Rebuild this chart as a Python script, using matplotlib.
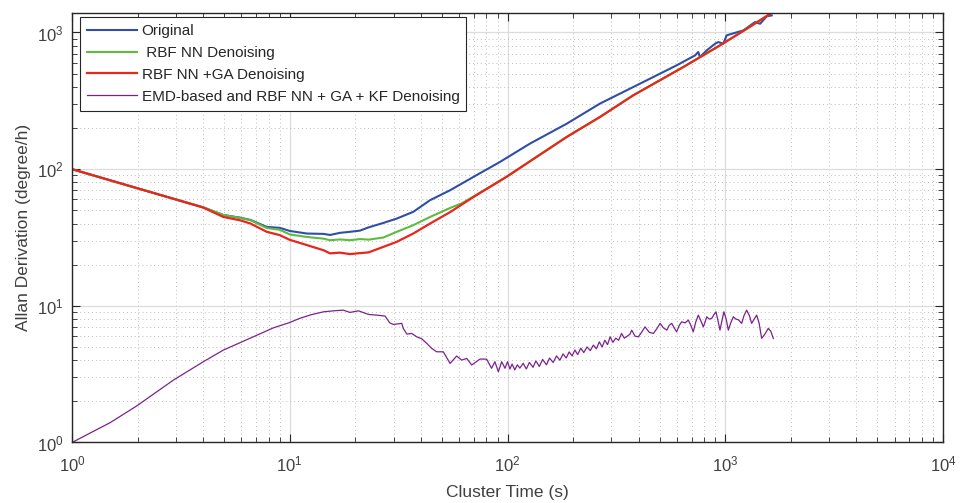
import numpy as np
import matplotlib.pyplot as plt

plt.rcParams['font.family'] = ['Liberation Sans', 'DejaVu Sans']

# Allan deviation curves (cluster time in s, deviation in degree/h)
orig_t = [1, 2, 3, 4.0, 4.95, 5.9, 6.6, 7.84, 9.0, 10, 12, 14.3, 15.3, 17, 18.9, 21, 23,
          26.9, 31, 36.9, 44.1, 54.5, 69.7, 92.4, 126.8, 187, 266, 378, 502, 598, 727,
          752, 765, 822, 900, 930, 980, 1015, 1211, 1370, 1445, 1550, 1634]
orig_y = [100, 72.4, 60, 52.6, 46.2, 44.2, 42.5, 37.8, 37.2, 35.3, 33.8, 33.6, 33.0, 34.2,
          34.8, 35.5, 37.5, 40.4, 43.5, 48.7, 59.3, 70.1, 87.7, 113, 153.8, 215, 302, 399,
          500, 575, 680, 720, 661, 740, 830, 851, 828, 953, 1036, 1192, 1159, 1312, 1334]

rbf_t = [1, 2, 3, 4.0, 4.95, 5.9, 6.6, 7.84, 9.0, 10, 12, 14.3, 15.3, 17, 18.9, 21, 23,
         26.9, 31, 36.9, 44.1, 54.5, 62, 69.7, 99.1, 187, 266, 378, 641, 946, 1250, 1700]
rbf_y = [100, 72.4, 60, 52.6, 46.2, 44.0, 42.3, 37.1, 36.0, 33.3, 31.9, 31.0, 30.2, 30.6,
         30.2, 30.8, 30.5, 31.6, 34.8, 38.9, 44.7, 52.0, 56.5, 63.0, 88, 172, 241, 347,
         558, 805, 1060, 1450]

ga_t = [1, 2, 3, 4.0, 4.95, 5.9, 6.6, 7.84, 9.0, 10, 12, 14.3, 15.3, 17, 18.9, 21, 23,
        26.9, 31, 36.9, 44.1, 54.5, 69.7, 99.1, 187, 266, 378, 641, 946, 1250, 1700]
ga_y = [100, 72.4, 60, 52.4, 44.7, 42.3, 40.0, 34.8, 32.9, 30.4, 27.8, 25.5, 24.2, 24.5,
        23.9, 24.3, 24.6, 27.0, 29.4, 33.8, 40.0, 48.5, 62.5, 88, 172, 241, 347, 558,
        805, 1060, 1450]

emd_t = [1, 1.5, 1.98, 2.92, 4.01, 4.95, 6.8, 8.41, 10, 11.1, 12.5, 14.3, 16, 17.6, 18.9,
         20.7, 23.0, 25.1, 27.4, 28.8, 29.9, 32.7, 33.2, 34.5, 36.3, 38.3, 40.3, 42.6, 44.9,
         47.3, 50.7, 54.5, 58.4, 61.6, 65, 68.5, 74.8, 80.2, 84.5, 87.5, 90.8, 94.0, 97.4,
         100, 102.6, 105, 108, 111, 114, 118, 122, 126, 131, 135, 140, 145, 151, 156, 162,
         168, 174, 180, 186, 192, 198, 204, 210, 217, 224, 232, 240, 248, 256, 264, 272,
         280, 288, 296, 305, 314, 324, 334, 344, 355, 365, 372, 385, 399, 413, 428, 448,
         468, 485, 502, 520, 539, 553, 568, 583, 598, 615, 631, 654, 677, 695, 713, 732,
         752, 772, 793, 808, 822, 845, 867, 887, 907, 926, 946, 966, 986, 1010, 1033, 1060,
         1089, 1120, 1150, 1190, 1220, 1254, 1290, 1322, 1360, 1394, 1430, 1470, 1520,
         1577, 1620, 1663]
emd_y = [1.0, 1.4, 1.85, 2.86, 3.90, 4.74, 5.93, 6.90, 7.55, 8.09, 8.6, 9.04, 9.2, 9.30,
         8.95, 9.19, 8.65, 8.55, 8.41, 7.5, 7.31, 7.44, 6.84, 6.21, 6.28, 5.93, 5.75, 5.31,
         4.88, 4.61, 4.61, 3.79, 4.29, 4.01, 4.12, 3.69, 4.08, 4.07, 3.49, 3.90, 3.29, 3.90,
         3.49, 3.9, 3.45, 3.75, 3.4, 3.7, 3.5, 3.8, 3.45, 3.85, 3.55, 3.95, 3.6, 4.05, 3.7,
         4.15, 3.85, 4.3, 4.0, 4.45, 4.15, 4.6, 4.3, 4.75, 4.4, 4.9, 4.55, 5.0, 4.7, 5.16,
         4.85, 5.45, 5.0, 5.6, 5.2, 5.93, 5.4, 5.8, 5.6, 6.28, 5.8, 6.0, 6.2, 6.64, 6.0, 5.93,
         6.4, 7.02, 6.4, 6.28, 6.8, 7.44, 6.9, 6.64, 7.2, 7.44, 6.9, 6.45, 7.2, 7.64, 7.5,
         7.86, 7.2, 6.45, 7.6, 8.55, 7.8, 7.02, 7.6, 8.31, 8.0, 8.09, 8.6, 9.04, 7.8, 6.64,
         7.8, 9.04, 8.0, 6.64, 7.5, 8.31, 8.0, 7.9, 7.44, 8.5, 9.30, 8.5, 7.44, 8.0, 8.55,
         7.5, 5.78, 6.2, 6.84, 6.5, 5.78]

labels = ['Original', ' RBF NN Denoising', 'RBF NN +GA Denoising',
          'EMD-based and RBF NN + GA + KF Denoising']

fig = plt.figure(figsize=(9.63, 5.03), dpi=100)
ax = fig.add_axes([0.0748, 0.1203, 0.9044, 0.8548])

ax.loglog(orig_t, orig_y, color='#2f4ea6', lw=1.5, label=labels[0])
ax.loglog(rbf_t, rbf_y, color='#5dbb3f', lw=1.5, label=labels[1])
ax.loglog(ga_t, ga_y, color='#e8261c', lw=1.6, label=labels[2])
ax.loglog(emd_t, emd_y, color='#7b228f', lw=0.9, label=labels[3])

ax.set_xlim(1, 1e4)
ax.set_ylim(1, 1400)

ax.grid(True, which='major', color='#dcdcdc', lw=0.9, ls='-')
ax.grid(True, which='minor', color='#bdbdbd', lw=0.7, ls=(0, (1, 3)))
ax.set_axisbelow(True)

ax.tick_params(which='both', direction='in', top=True, right=True, colors='#262626',
               labelcolor='#404040', labelsize=12)
ax.tick_params(which='major', length=6, width=0.8)
ax.tick_params(which='minor', length=3.5, width=0.6)
ax.tick_params(axis='x', which='major', pad=9)
ax.tick_params(axis='y', which='major', pad=6)
for s in ax.spines.values():
    s.set_color('#262626')
    s.set_linewidth(1.0)

ax.set_xlabel('Cluster Time (s)', fontsize=12.5, color='#404040', labelpad=7)
ax.set_ylabel('Allan Derivation (degree/h)', fontsize=12.5, color='#404040', labelpad=4)

leg = ax.legend(loc='upper left', bbox_to_anchor=(0.009, 0.9895), borderaxespad=0,
                fontsize=11, fancybox=False, framealpha=1, edgecolor='#262626',
                handlelength=3.3, handletextpad=0.3, borderpad=0.45, labelspacing=0.52)
leg.get_frame().set_linewidth(0.8)
for t in leg.get_texts():
    t.set_color('#262626')

fig.savefig('out.png', dpi=100)
